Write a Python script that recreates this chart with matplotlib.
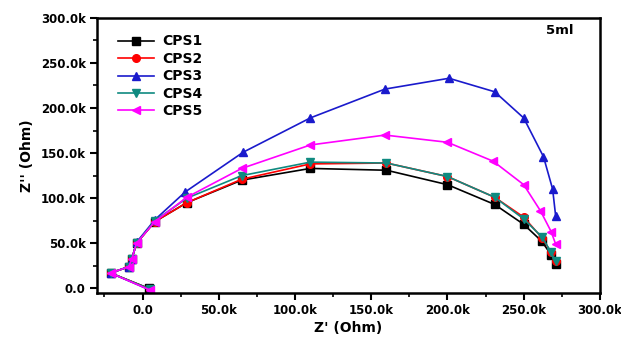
import matplotlib
matplotlib.use("Agg")
import matplotlib.pyplot as plt
from matplotlib.ticker import MultipleLocator, FuncFormatter

labels = ["CPS1", "CPS2", "CPS3", "CPS4", "CPS5"]
colors = ["#000000", "#ff0000", "#1a1acc", "#0f8a80", "#ff00ff"]
markers = ["s", "o", "^", "v", "<"]

# Z' (kOhm)
x_cps1 = [4, -21, -9, -7, -4, 8, 29, 65, 110, 160, 200, 231, 250, 262, 268, 271]
x_cps2 = [5, -21, -9, -7, -4, 8, 29, 65, 110, 160, 200, 231, 250, 262, 268, 271]
x_cps3 = [5, -21, -9, -7, -4, 8, 28, 66, 110, 159, 201, 231, 250, 263, 269, 271]
x_cps4 = [5, -21, -9, -7, -4, 8, 29, 65, 110, 160, 200, 231, 250, 262, 268, 271]
x_cps5 = [5, -21, -9, -7, -4, 8, 29, 65, 110, 159, 200, 230, 250, 261, 268, 271]

# Z'' (kOhm)
y_cps1 = [0, 17, 24, 33, 50, 74, 95, 120, 133, 131, 115, 93, 71, 52, 37, 27]
y_cps2 = [-1, 17, 24, 33, 50, 74, 95, 121, 138, 139, 124, 101, 79, 56, 40, 30]
y_cps3 = [-2, 17, 24, 33, 51, 76, 107, 151, 189, 221, 233, 218, 189, 146, 110, 80]
y_cps4 = [-1, 17, 24, 33, 50, 75, 100, 125, 140, 139, 124, 101, 77, 57, 40, 30]
y_cps5 = [-2, 17, 24, 33, 50, 74, 101, 133, 159, 170, 162, 141, 115, 86, 63, 49]

xs = [x_cps1, x_cps2, x_cps3, x_cps4, x_cps5]
ys = [y_cps1, y_cps2, y_cps3, y_cps4, y_cps5]

plt.rcParams['font.family'] = ['DejaVu Sans']
plt.rcParams['font.weight'] = 'bold'

fig = plt.figure(figsize=(6.21, 3.37), dpi=100)
ax = fig.add_axes([0.156, 0.131, 0.81, 0.816])

for x, y, lab, c, m in zip(xs, ys, labels, colors, markers):
    ax.plot([v * 1000 for v in x], [v * 1000 for v in y], color=c, marker=m,
            markersize=5.5, linewidth=1.2, label=lab)

ax.set_xlim(-30000, 300000)
ax.set_ylim(-5000, 300000)
ax.xaxis.set_major_locator(MultipleLocator(50000))
ax.xaxis.set_minor_locator(MultipleLocator(25000))
ax.yaxis.set_major_locator(MultipleLocator(50000))
ax.yaxis.set_minor_locator(MultipleLocator(25000))

fmt = FuncFormatter(lambda v, p: "0.0" if abs(v) < 1e-9 else f"{v/1000:.1f}k")
ax.xaxis.set_major_formatter(fmt)
ax.yaxis.set_major_formatter(fmt)

ax.tick_params(which='major', direction='out', length=5, width=1.5, labelsize=8.5, pad=3)
ax.tick_params(which='minor', direction='out', length=3, width=1.2)
for lbl in ax.get_xticklabels() + ax.get_yticklabels():
    lbl.set_fontweight('bold')
for s in ax.spines.values():
    s.set_linewidth(1.8)

ax.set_xlabel("Z' (Ohm)", fontsize=10, fontweight='bold', labelpad=3)
ax.set_ylabel("Z'' (Ohm)", fontsize=10, fontweight='bold', labelpad=5)

ax.text(0.92, 0.955, "5ml", transform=ax.transAxes, ha='center', va='center',
        fontsize=9.5, fontweight='bold')

leg = ax.legend(loc='upper left', frameon=False, fontsize=10, handlelength=2.6,
                labelspacing=0.25, borderaxespad=0.4, handletextpad=0.6,
                bbox_to_anchor=(0.02, 0.98))
for t in leg.get_texts():
    t.set_fontweight('bold')

fig.savefig("out.png", dpi=100)
